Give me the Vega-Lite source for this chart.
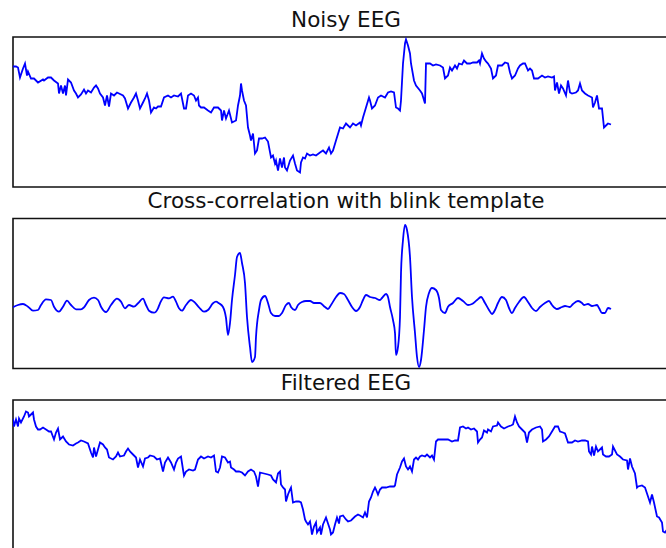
{
  "$schema": "https://vega.github.io/schema/vega-lite/v6.json",
  "padding": {"left": 12, "top": 8, "right": 0, "bottom": 0},
  "spacing": 1.5,
  "config": {
    "view": {"stroke": "#111111", "strokeWidth": 1.6},
    "title": {"font": "DejaVu Sans", "fontSize": 21.5, "fontWeight": "normal", "color": "#111111", "anchor": "middle", "frame": "group", "offset": 6},
    "line": {"color": "#0000ff", "strokeWidth": 1.8}
  },
  "datasets": {
    "noisy": [
      {"t":0,"v":120.5},{"t":3,"v":120.5},{"t":5,"v":119.5},{"t":7,"v":109.5},{"t":10,"v":118.5},{"t":12,"v":123.5},{"t":14,"v":111.5},{"t":15,"v":115.5},{"t":18,"v":108.5},{"t":21,"v":108.5},{"t":25,"v":104.5},{"t":30,"v":107.5},{"t":31,"v":106.5},{"t":35,"v":109.5},{"t":38,"v":109.5},{"t":41,"v":106.5},{"t":45,"v":103.5},{"t":46,"v":93.5},{"t":48,"v":101.5},{"t":50,"v":93.5},{"t":52,"v":101.5},{"t":53,"v":91.5},{"t":55,"v":107.5},{"t":58,"v":104.5},{"t":61,"v":96.5},{"t":63,"v":93.5},{"t":65,"v":89.5},{"t":68,"v":92.5},{"t":71,"v":97.5},{"t":73,"v":93.5},{"t":75,"v":96.5},{"t":78,"v":94.5},{"t":81,"v":99.5},{"t":83,"v":101.5},{"t":85,"v":98.5},{"t":87,"v":93.5},{"t":90,"v":89.5},{"t":92,"v":81.5},{"t":94,"v":91.5},{"t":96,"v":80.5},{"t":98,"v":93.5},{"t":101,"v":91.5},{"t":104,"v":94.5},{"t":106,"v":93.5},{"t":110,"v":91.5},{"t":112,"v":88.5},{"t":115,"v":78.5},{"t":118,"v":84.5},{"t":121,"v":89.5},{"t":123,"v":93.5},{"t":125,"v":86.5},{"t":127,"v":78.5},{"t":130,"v":84.5},{"t":132,"v":88.5},{"t":134,"v":93.5},{"t":136,"v":86.5},{"t":138,"v":74.5},{"t":141,"v":79.5},{"t":143,"v":78.5},{"t":145,"v":80.5},{"t":148,"v":80.5},{"t":151,"v":89.5},{"t":155,"v":91.5},{"t":158,"v":89.5},{"t":161,"v":91.5},{"t":165,"v":90.5},{"t":168,"v":93.5},{"t":171,"v":78.5},{"t":173,"v":78.5},{"t":175,"v":91.5},{"t":178,"v":93.5},{"t":181,"v":91.5},{"t":183,"v":86.5},{"t":185,"v":89.5},{"t":186,"v":81.5},{"t":188,"v":79.5},{"t":191,"v":79.5},{"t":195,"v":76.5},{"t":198,"v":74.5},{"t":201,"v":79.5},{"t":205,"v":79.5},{"t":208,"v":76.5},{"t":209,"v":66.5},{"t":211,"v":76.5},{"t":213,"v":68.5},{"t":216,"v":76.5},{"t":219,"v":64.5},{"t":223,"v":66.5},{"t":225,"v":81.5},{"t":227,"v":91.5},{"t":228,"v":103.5},{"t":229,"v":96.5},{"t":231,"v":86.5},{"t":233,"v":81.5},{"t":235,"v":59.5},{"t":237,"v":51.5},{"t":238,"v":46.5},{"t":240,"v":53.5},{"t":242,"v":33.5},{"t":244,"v":36.5},{"t":246,"v":48.5},{"t":249,"v":48.5},{"t":252,"v":49.5},{"t":255,"v":45.5},{"t":258,"v":29.5},{"t":260,"v":31.5},{"t":262,"v":23.5},{"t":263,"v":26.5},{"t":265,"v":16.5},{"t":267,"v":28.5},{"t":269,"v":19.5},{"t":271,"v":29.5},{"t":272,"v":19.5},{"t":274,"v":16.5},{"t":277,"v":26.5},{"t":280,"v":31.5},{"t":282,"v":23.5},{"t":284,"v":16.5},{"t":287,"v":14.5},{"t":288,"v":24.5},{"t":290,"v":29.5},{"t":292,"v":28.5},{"t":294,"v":33.5},{"t":297,"v":31.5},{"t":300,"v":32.5},{"t":303,"v":31.5},{"t":307,"v":34.5},{"t":310,"v":36.5},{"t":313,"v":33.5},{"t":316,"v":39.5},{"t":318,"v":33.5},{"t":320,"v":36.5},{"t":323,"v":46.5},{"t":327,"v":59.5},{"t":330,"v":58.5},{"t":333,"v":63.5},{"t":337,"v":59.5},{"t":340,"v":63.5},{"t":343,"v":61.5},{"t":347,"v":64.5},{"t":348,"v":61.5},{"t":350,"v":69.5},{"t":353,"v":79.5},{"t":356,"v":89.5},{"t":357,"v":86.5},{"t":359,"v":78.5},{"t":362,"v":81.5},{"t":365,"v":89.5},{"t":368,"v":91.5},{"t":372,"v":89.5},{"t":375,"v":94.5},{"t":378,"v":95.5},{"t":381,"v":94.5},{"t":383,"v":79.5},{"t":385,"v":78.5},{"t":387,"v":76.5},{"t":388,"v":86.5},{"t":390,"v":123.5},{"t":392,"v":143.5},{"t":393,"v":147.5},{"t":395,"v":141.5},{"t":397,"v":133.5},{"t":398,"v":123.5},{"t":401,"v":106.5},{"t":403,"v":101.5},{"t":407,"v":96.5},{"t":409,"v":93.5},{"t":412,"v":83.5},{"t":413,"v":123.5},{"t":417,"v":123.5},{"t":420,"v":121.5},{"t":423,"v":122.5},{"t":427,"v":121.5},{"t":430,"v":119.5},{"t":432,"v":108.5},{"t":435,"v":111.5},{"t":437,"v":119.5},{"t":439,"v":116.5},{"t":442,"v":121.5},{"t":444,"v":118.5},{"t":446,"v":123.5},{"t":449,"v":122.5},{"t":451,"v":126.5},{"t":454,"v":123.5},{"t":457,"v":123.5},{"t":460,"v":124.5},{"t":464,"v":124.5},{"t":466,"v":126.5},{"t":467,"v":123.5},{"t":469,"v":133.5},{"t":471,"v":128.5},{"t":473,"v":125.5},{"t":475,"v":123.5},{"t":478,"v":118.5},{"t":480,"v":108.5},{"t":483,"v":111.5},{"t":485,"v":121.5},{"t":489,"v":121.5},{"t":492,"v":124.5},{"t":495,"v":123.5},{"t":497,"v":114.5},{"t":499,"v":108.5},{"t":502,"v":111.5},{"t":505,"v":118.5},{"t":507,"v":121.5},{"t":510,"v":123.5},{"t":512,"v":123.5},{"t":515,"v":116.5},{"t":517,"v":118.5},{"t":519,"v":116.5},{"t":521,"v":108.5},{"t":525,"v":108.5},{"t":529,"v":111.5},{"t":532,"v":109.5},{"t":535,"v":110.5},{"t":539,"v":109.5},{"t":541,"v":110.5},{"t":542,"v":96.5},{"t":544,"v":104.5},{"t":546,"v":93.5},{"t":548,"v":101.5},{"t":550,"v":98.5},{"t":553,"v":91.5},{"t":555,"v":106.5},{"t":557,"v":94.5},{"t":559,"v":93.5},{"t":563,"v":94.5},{"t":565,"v":96.5},{"t":567,"v":103.5},{"t":569,"v":96.5},{"t":572,"v":93.5},{"t":575,"v":91.5},{"t":579,"v":89.5},{"t":580,"v":79.5},{"t":582,"v":84.5},{"t":584,"v":91.5},{"t":586,"v":78.5},{"t":589,"v":78.5},{"t":591,"v":59.5},{"t":594,"v":62.5},{"t":595,"v":63.5},{"t":598,"v":62.5}
    ],
    "xcorr": [
      {"t":0,"v":-0.3},{"t":5,"v":2},{"t":10,"v":3},{"t":15,"v":0.3},{"t":20,"v":-3.7},{"t":25,"v":-3},{"t":28,"v":2},{"t":33,"v":7.7},{"t":38,"v":7},{"t":41,"v":0.3},{"t":46,"v":-4.7},{"t":50,"v":0.3},{"t":54,"v":6.3},{"t":58,"v":2},{"t":63,"v":-2.3},{"t":68,"v":-2.3},{"t":71,"v":-0.3},{"t":76,"v":7},{"t":81,"v":9.3},{"t":85,"v":7},{"t":88,"v":0.3},{"t":93,"v":-5},{"t":98,"v":2},{"t":104,"v":8.3},{"t":108,"v":5.3},{"t":112,"v":-1.3},{"t":116,"v":2},{"t":121,"v":0.3},{"t":125,"v":3.7},{"t":130,"v":8.3},{"t":133,"v":2},{"t":136,"v":-3.7},{"t":141,"v":-5.7},{"t":145,"v":-1.3},{"t":147,"v":3.7},{"t":151,"v":9.7},{"t":156,"v":8.7},{"t":160,"v":10.3},{"t":163,"v":5.3},{"t":166,"v":-1.3},{"t":169,"v":-3.7},{"t":173,"v":2},{"t":178,"v":7},{"t":181,"v":5.3},{"t":186,"v":-0.3},{"t":191,"v":-4.7},{"t":195,"v":-3},{"t":200,"v":3.7},{"t":203,"v":5.3},{"t":206,"v":3.7},{"t":210,"v":0},{"t":213,"v":-11},{"t":215,"v":-28},{"t":217,"v":-16},{"t":219,"v":7},{"t":222,"v":32},{"t":224,"v":50},{"t":227,"v":54},{"t":229,"v":44},{"t":232,"v":24},{"t":234,"v":-10},{"t":237,"v":-40},{"t":239,"v":-55},{"t":242,"v":-50},{"t":243,"v":-30},{"t":246,"v":-3},{"t":248,"v":7},{"t":252,"v":11},{"t":255,"v":4},{"t":258,"v":-6},{"t":262,"v":-9},{"t":266,"v":-9},{"t":269,"v":-6},{"t":273,"v":2},{"t":276,"v":4},{"t":278,"v":0},{"t":282,"v":-3},{"t":285,"v":2},{"t":289,"v":5},{"t":293,"v":6},{"t":297,"v":6},{"t":301,"v":4},{"t":307,"v":4},{"t":312,"v":0},{"t":315,"v":-2},{"t":318,"v":2},{"t":323,"v":10},{"t":327,"v":14},{"t":331,"v":13},{"t":335,"v":7},{"t":339,"v":0},{"t":343,"v":-4},{"t":347,"v":0},{"t":350,"v":7},{"t":353,"v":12},{"t":357,"v":10},{"t":362,"v":9},{"t":367,"v":7},{"t":369,"v":9},{"t":373,"v":13},{"t":375,"v":10},{"t":377,"v":0},{"t":380,"v":-13},{"t":382,"v":-26},{"t":383,"v":-48},{"t":385,"v":-40},{"t":387,"v":-10},{"t":388,"v":34},{"t":390,"v":67},{"t":392,"v":82},{"t":394,"v":77},{"t":397,"v":50},{"t":399,"v":10},{"t":402,"v":-26},{"t":404,"v":-50},{"t":406,"v":-60},{"t":408,"v":-53},{"t":411,"v":-23},{"t":413,"v":0},{"t":416,"v":14},{"t":419,"v":19},{"t":423,"v":17},{"t":426,"v":9},{"t":428,"v":-3},{"t":432,"v":-6},{"t":435,"v":0.3},{"t":440,"v":4},{"t":445,"v":9},{"t":450,"v":6},{"t":455,"v":2},{"t":459,"v":3},{"t":464,"v":7},{"t":468,"v":10},{"t":472,"v":4},{"t":476,"v":-3},{"t":479,"v":-7},{"t":482,"v":-3},{"t":485,"v":4},{"t":489,"v":10},{"t":493,"v":7},{"t":496,"v":-1},{"t":499,"v":-6},{"t":502,"v":-1},{"t":506,"v":5},{"t":511,"v":10},{"t":515,"v":5},{"t":519,"v":-1},{"t":523,"v":-4},{"t":527,"v":0},{"t":532,"v":4},{"t":536,"v":6},{"t":539,"v":2},{"t":544,"v":-2},{"t":549,"v":0},{"t":552,"v":1},{"t":557,"v":0},{"t":560,"v":3},{"t":565,"v":6},{"t":569,"v":4},{"t":571,"v":2},{"t":575,"v":3},{"t":579,"v":1},{"t":584,"v":2},{"t":586,"v":-1},{"t":589,"v":-6},{"t":592,"v":-6},{"t":595,"v":-1},{"t":598,"v":-2}
    ],
    "filtered": [
      {"t":0,"v":131.2},{"t":1,"v":123.5},{"t":3,"v":130.5},{"t":5,"v":123.5},{"t":6,"v":131.5},{"t":8,"v":127.5},{"t":11,"v":133.5},{"t":13,"v":138.5},{"t":15,"v":137.5},{"t":16,"v":133.5},{"t":18,"v":135.5},{"t":20,"v":137.5},{"t":21,"v":130.5},{"t":23,"v":123.5},{"t":25,"v":120.5},{"t":27,"v":120.5},{"t":30,"v":122.5},{"t":33,"v":120.5},{"t":36,"v":118.5},{"t":38,"v":118.5},{"t":41,"v":110.5},{"t":43,"v":117.5},{"t":45,"v":121.5},{"t":47,"v":110.5},{"t":50,"v":113.5},{"t":53,"v":108.5},{"t":56,"v":105.5},{"t":60,"v":104.5},{"t":63,"v":106.5},{"t":65,"v":107.5},{"t":68,"v":109.5},{"t":71,"v":108.5},{"t":75,"v":106.5},{"t":78,"v":97.5},{"t":80,"v":92.5},{"t":81,"v":102.5},{"t":83,"v":93.5},{"t":85,"v":100.5},{"t":87,"v":107.5},{"t":90,"v":105.5},{"t":92,"v":102.5},{"t":94,"v":100.5},{"t":96,"v":92.5},{"t":100,"v":90.5},{"t":103,"v":93.5},{"t":105,"v":97.5},{"t":107,"v":93.5},{"t":111,"v":94.5},{"t":113,"v":98.5},{"t":115,"v":101.5},{"t":117,"v":98.5},{"t":120,"v":95.5},{"t":123,"v":92.5},{"t":125,"v":82.5},{"t":127,"v":90.5},{"t":130,"v":83.5},{"t":132,"v":91.5},{"t":135,"v":92.5},{"t":137,"v":94.5},{"t":141,"v":93.5},{"t":144,"v":90.5},{"t":147,"v":91.5},{"t":150,"v":78.5},{"t":152,"v":87.5},{"t":155,"v":92.5},{"t":158,"v":87.5},{"t":161,"v":80.5},{"t":163,"v":87.5},{"t":165,"v":91.5},{"t":168,"v":93.5},{"t":170,"v":80.5},{"t":171,"v":74.5},{"t":173,"v":78.5},{"t":176,"v":80.5},{"t":180,"v":79.5},{"t":182,"v":80.5},{"t":185,"v":90.5},{"t":188,"v":93.5},{"t":191,"v":91.5},{"t":195,"v":93.5},{"t":198,"v":92.5},{"t":201,"v":94.5},{"t":203,"v":78.5},{"t":205,"v":77.5},{"t":207,"v":82.5},{"t":209,"v":93.5},{"t":212,"v":92.5},{"t":215,"v":87.5},{"t":217,"v":88.5},{"t":218,"v":82.5},{"t":221,"v":80.5},{"t":223,"v":78.5},{"t":226,"v":78.5},{"t":229,"v":77.5},{"t":232,"v":74.5},{"t":235,"v":78.5},{"t":238,"v":80.5},{"t":241,"v":78.5},{"t":243,"v":73.5},{"t":245,"v":63.5},{"t":247,"v":77.5},{"t":251,"v":76.5},{"t":255,"v":75.5},{"t":258,"v":74.5},{"t":260,"v":70.5},{"t":263,"v":67.5},{"t":265,"v":76.5},{"t":267,"v":78.5},{"t":268,"v":65.5},{"t":270,"v":62.5},{"t":272,"v":60.5},{"t":273,"v":48.5},{"t":275,"v":55.5},{"t":277,"v":60.5},{"t":278,"v":62.5},{"t":280,"v":47.5},{"t":283,"v":48.5},{"t":286,"v":48.5},{"t":288,"v":47.5},{"t":290,"v":40.5},{"t":292,"v":30.5},{"t":293,"v":28.5},{"t":295,"v":25.5},{"t":297,"v":28.5},{"t":298,"v":22.5},{"t":299,"v":15.5},{"t":301,"v":23.5},{"t":303,"v":27.5},{"t":304,"v":17.5},{"t":307,"v":22.5},{"t":308,"v":15.5},{"t":310,"v":25.5},{"t":313,"v":32.5},{"t":315,"v":26.5},{"t":317,"v":20.5},{"t":318,"v":15.5},{"t":320,"v":17.5},{"t":322,"v":25.5},{"t":324,"v":32.5},{"t":326,"v":26.5},{"t":327,"v":33.5},{"t":330,"v":34.5},{"t":333,"v":30.5},{"t":335,"v":28.5},{"t":338,"v":29.5},{"t":342,"v":33.5},{"t":345,"v":35.5},{"t":347,"v":34.5},{"t":350,"v":32.5},{"t":352,"v":37.5},{"t":354,"v":32.5},{"t":356,"v":48.5},{"t":358,"v":52.5},{"t":360,"v":58.5},{"t":362,"v":62.5},{"t":363,"v":60.5},{"t":365,"v":55.5},{"t":367,"v":60.5},{"t":369,"v":62.5},{"t":373,"v":62.5},{"t":377,"v":63.5},{"t":381,"v":63.5},{"t":382,"v":64.5},{"t":384,"v":75.5},{"t":387,"v":82.5},{"t":389,"v":88.5},{"t":391,"v":91.5},{"t":393,"v":83.5},{"t":395,"v":80.5},{"t":397,"v":83.5},{"t":399,"v":78.5},{"t":401,"v":90.5},{"t":403,"v":92.5},{"t":405,"v":90.5},{"t":407,"v":93.5},{"t":409,"v":94.5},{"t":412,"v":93.5},{"t":414,"v":95.5},{"t":417,"v":92.5},{"t":419,"v":94.5},{"t":421,"v":90.5},{"t":423,"v":108.5},{"t":425,"v":110.5},{"t":428,"v":110.5},{"t":432,"v":110.5},{"t":435,"v":110.5},{"t":439,"v":108.5},{"t":442,"v":109.5},{"t":445,"v":109.5},{"t":447,"v":122.5},{"t":450,"v":123.5},{"t":453,"v":121.5},{"t":455,"v":122.5},{"t":458,"v":120.5},{"t":461,"v":121.5},{"t":464,"v":118.5},{"t":465,"v":107.5},{"t":467,"v":110.5},{"t":469,"v":112.5},{"t":471,"v":119.5},{"t":474,"v":117.5},{"t":475,"v":120.5},{"t":478,"v":118.5},{"t":480,"v":123.5},{"t":484,"v":124.5},{"t":485,"v":127.5},{"t":488,"v":123.5},{"t":491,"v":121.5},{"t":495,"v":123.5},{"t":498,"v":124.5},{"t":500,"v":125.5},{"t":502,"v":133.5},{"t":504,"v":127.5},{"t":506,"v":123.5},{"t":509,"v":120.5},{"t":512,"v":117.5},{"t":514,"v":107.5},{"t":516,"v":117.5},{"t":519,"v":120.5},{"t":523,"v":122.5},{"t":527,"v":123.5},{"t":529,"v":120.5},{"t":530,"v":108.5},{"t":533,"v":110.5},{"t":536,"v":113.5},{"t":539,"v":118.5},{"t":542,"v":123.5},{"t":545,"v":123.5},{"t":547,"v":118.5},{"t":550,"v":117.5},{"t":552,"v":116.5},{"t":555,"v":107.5},{"t":559,"v":107.5},{"t":562,"v":109.5},{"t":565,"v":108.5},{"t":569,"v":109.5},{"t":572,"v":109.5},{"t":575,"v":108.5},{"t":576,"v":98.5},{"t":578,"v":95.5},{"t":579,"v":103.5},{"t":581,"v":94.5},{"t":583,"v":103.5},{"t":585,"v":98.5},{"t":589,"v":102.5},{"t":590,"v":95.5},{"t":593,"v":93.5},{"t":596,"v":93.5},{"t":599,"v":95.5},{"t":600,"v":103.5},{"t":604,"v":95.5},{"t":607,"v":93.5},{"t":610,"v":90.5},{"t":614,"v":89.5},{"t":615,"v":80.5},{"t":617,"v":91.5},{"t":619,"v":83.5},{"t":622,"v":76.5},{"t":624,"v":62.5},{"t":625,"v":63.5},{"t":629,"v":64.5},{"t":632,"v":62.5},{"t":635,"v":53.5},{"t":637,"v":47.5},{"t":639,"v":55.5},{"t":641,"v":47.5},{"t":644,"v":33.5},{"t":646,"v":32.5},{"t":649,"v":27.5},{"t":650,"v":18.5},{"t":652,"v":17.5},{"t":654,"v":20.5},{"t":657,"v":19.5},{"t":660,"v":16.5}
    ]
  },
  "vconcat": [
    {
      "title": "Noisy EEG",
      "width": 666,
      "height": 150,
      "data": {"name": "noisy"},
      "mark": {"type": "line", "clip": true},
      "encoding": {
        "x": {"field": "t", "type": "quantitative", "scale": {"domain": [0, 666], "nice": false, "zero": false}, "axis": null},
        "y": {"field": "v", "type": "quantitative", "scale": {"domain": [0, 150], "nice": false, "zero": false}, "axis": null}
      }
    },
    {
      "title": "Cross-correlation with blink template",
      "width": 666,
      "height": 150,
      "data": {"name": "xcorr"},
      "mark": {"type": "line", "clip": true, "interpolate": "monotone"},
      "encoding": {
        "x": {"field": "t", "type": "quantitative", "scale": {"domain": [0, 666], "nice": false, "zero": false}, "axis": null},
        "y": {"field": "v", "type": "quantitative", "scale": {"domain": [-61.5, 88.5], "nice": false, "zero": false}, "axis": null}
      }
    },
    {
      "title": "Filtered EEG",
      "width": 666,
      "height": 150,
      "data": {"name": "filtered"},
      "mark": {"type": "line", "clip": true},
      "encoding": {
        "x": {"field": "t", "type": "quantitative", "scale": {"domain": [0, 666], "nice": false, "zero": false}, "axis": null},
        "y": {"field": "v", "type": "quantitative", "scale": {"domain": [0, 150], "nice": false, "zero": false}, "axis": null}
      }
    }
  ]
}
